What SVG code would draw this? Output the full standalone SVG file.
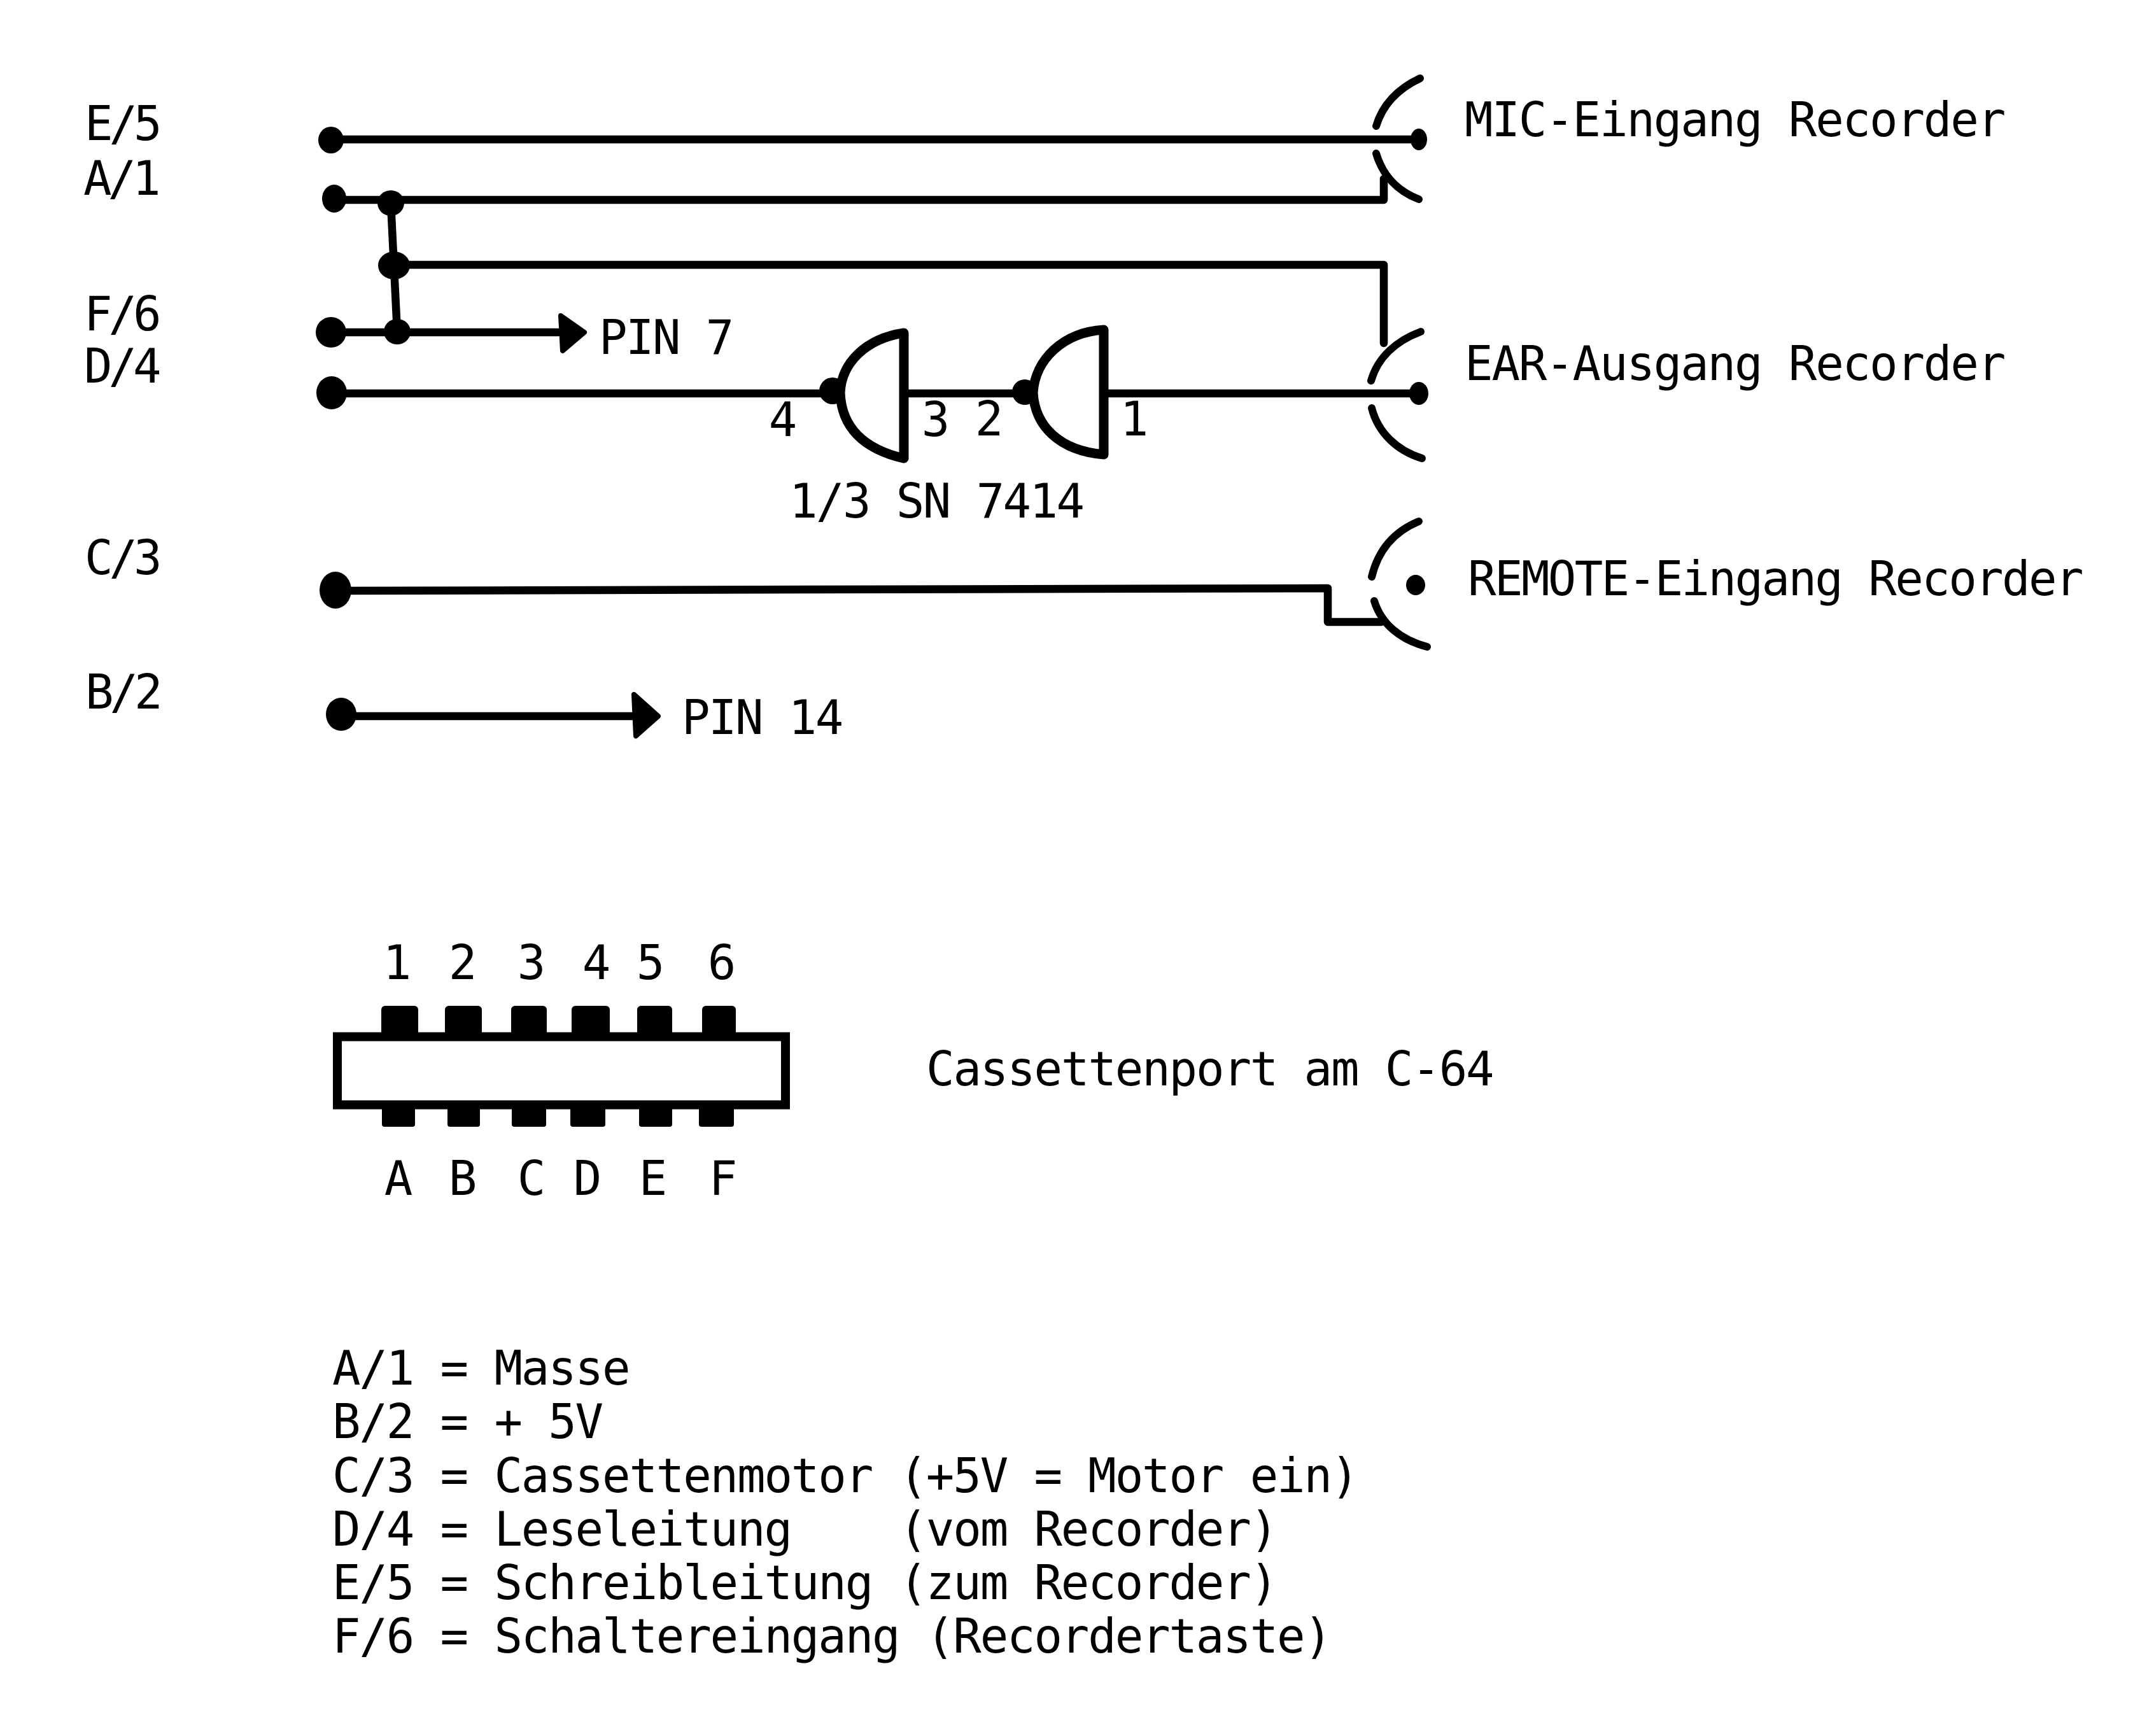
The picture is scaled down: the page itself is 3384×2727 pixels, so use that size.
<svg xmlns="http://www.w3.org/2000/svg" width="3384" height="2727" viewBox="0 0 3384 2727">
<style>
text{font-family:"DejaVu Sans Mono","Liberation Mono",monospace;font-size:74px;letter-spacing:-2.15px;fill:#000;white-space:pre}
.c{text-anchor:middle;letter-spacing:0}
.l{letter-spacing:-6px}
.t{letter-spacing:-2.6px}
.w{fill:none;stroke:#000;stroke-width:12.5;stroke-linecap:round;stroke-linejoin:round}
.a{fill:none;stroke:#000;stroke-width:12;stroke-linecap:round}
.g{fill:#fff;stroke:#000;stroke-width:15;stroke-linejoin:round}
.f{fill:#000}
.h{fill:#000;stroke:#000;stroke-width:8;stroke-linejoin:round}
</style>
<rect width="3384" height="2727" fill="#fff"/>
<g id="connectors">
<path class="w" d="M520 219H2229"/>
<path class="w" d="M525 314H2174V281"/>
<path class="w" d="M619 416H2174V539"/>
<path class="w" d="M614 319L624 521"/>
<path class="w" d="M520 522H885"/>
<path class="w" d="M521 618H1300"/>
<path class="w" d="M1420 618H1600"/>
<path class="w" d="M1733 618H2229"/>
<path class="w" d="M525 928L2086 924V977H2170"/>
<path class="w" d="M534 1125H1000"/>
</g>
<g id="junctions">
<ellipse class="f" cx="520" cy="220" rx="20" ry="21"/>
<ellipse class="f" cx="525" cy="312" rx="19" ry="22"/>
<ellipse class="f" cx="614" cy="319" rx="21" ry="20"/>
<ellipse class="f" cx="619" cy="417" rx="25" ry="22"/>
<ellipse class="f" cx="624" cy="521" rx="21" ry="20"/>
<ellipse class="f" cx="520" cy="522" rx="24" ry="24"/>
<ellipse class="f" cx="521" cy="617" rx="24" ry="26"/>
<ellipse class="f" cx="527" cy="927" rx="25" ry="29"/>
<ellipse class="f" cx="536" cy="1122" rx="24" ry="26"/>
<polygon class="h" points="881,496 918,522 884,551"/>
<polygon class="h" points="996,1091 1034,1125 999,1156"/>
</g>
<g id="gate-1">
<circle class="f" cx="1308" cy="614" r="21"/>
<path class="g" d="M1420 523C1360 532 1322 570 1320 617C1322 670 1355 705 1420 720Z"/>
</g>
<g id="gate-2">
<circle class="f" cx="1610" cy="616" r="20"/>
<path class="g" d="M1734 518C1670 522 1626 565 1623 617C1626 670 1665 708 1734 714Z"/>
</g>
<g id="jack-mic">
<path class="a" d="M2231 123C2195 140 2172 165 2162 198"/>
<path class="a" d="M2162 241C2172 275 2195 300 2229 313"/>
<ellipse class="f" cx="2229" cy="219" rx="13" ry="17"/>
</g>
<g id="jack-ear">
<path class="a" d="M2232 521C2195 535 2165 560 2154 598"/>
<path class="a" d="M2155 641C2165 680 2195 708 2234 720"/>
<ellipse class="f" cx="2229" cy="618" rx="15" ry="18"/>
</g>
<g id="jack-remote">
<path class="a" d="M2229 819C2190 835 2165 865 2155 906"/>
<path class="a" d="M2159 944C2170 980 2200 1005 2242 1016"/>
<ellipse class="f" cx="2224" cy="919" rx="15" ry="16"/>
</g>
<g id="port">
<rect class="f" x="599" y="1580" width="58" height="50" rx="6"/>
<rect class="f" x="699" y="1580" width="58" height="50" rx="6"/>
<rect class="f" x="803" y="1580" width="56" height="50" rx="6"/>
<rect class="f" x="898" y="1580" width="60" height="50" rx="6"/>
<rect class="f" x="1001" y="1580" width="55" height="50" rx="6"/>
<rect class="f" x="1103" y="1580" width="53" height="50" rx="6"/>
<rect class="f" x="600" y="1730" width="52" height="40" rx="4"/>
<rect class="f" x="703" y="1730" width="51" height="40" rx="4"/>
<rect class="f" x="804" y="1730" width="54" height="40" rx="4"/>
<rect class="f" x="896" y="1730" width="55" height="40" rx="4"/>
<rect class="f" x="1004" y="1730" width="52" height="40" rx="4"/>
<rect class="f" x="1098" y="1730" width="55" height="40" rx="4"/>
<rect x="530" y="1628.5" width="704" height="107" fill="#fff" stroke="#000" stroke-width="14"/>
</g>
<g id="labels">
<text class="l" x="133" y="220">E/5</text>
<text class="l" x="131" y="306">A/1</text>
<text class="l" x="132" y="519">F/6</text>
<text class="l" x="132" y="601">D/4</text>
<text class="l" x="133" y="902">C/3</text>
<text class="l" x="134" y="1113">B/2</text>
<text class="t" x="941" y="556">PIN 7</text>
<text class="t" x="1071" y="1153">PIN 14</text>
<text x="2301" y="214">MIC-Eingang Recorder</text>
<text x="2301" y="597">EAR-Ausgang Recorder</text>
<text class="t" x="2306" y="935">REMOTE-Eingang Recorder</text>
<text class="c" x="1230" y="685">4</text>
<text class="c" x="1470" y="685">3</text>
<text class="c" x="1554" y="684">2</text>
<text class="c" x="1782" y="684">1</text>
<text class="t" x="1240" y="813">1/3 SN 7414</text>
<text class="c" x="624" y="1538">1</text>
<text class="c" x="727" y="1538">2</text>
<text class="c" x="835" y="1538">3</text>
<text class="c" x="937" y="1538">4</text>
<text class="c" x="1022" y="1538">5</text>
<text class="c" x="1134" y="1538">6</text>
<text class="c" x="626" y="1877">A</text>
<text class="c" x="727" y="1877">B</text>
<text class="c" x="835" y="1877">C</text>
<text class="c" x="923" y="1877">D</text>
<text class="c" x="1026" y="1877">E</text>
<text class="c" x="1136" y="1877">F</text>
<text x="1455" y="1705">Cassettenport am C-64</text>
<text x="522" y="2175">A/1 = Masse</text>
<text x="522" y="2259">B/2 = + 5V</text>
<text x="522" y="2344">C/3 = Cassettenmotor (+5V = Motor ein)</text>
<text x="522" y="2428">D/4 = Leseleitung    (vom Recorder)</text>
<text x="522" y="2512">E/5 = Schreibleitung (zum Recorder)</text>
<text x="522" y="2596">F/6 = Schaltereingang (Recordertaste)</text>
</g>
</svg>
